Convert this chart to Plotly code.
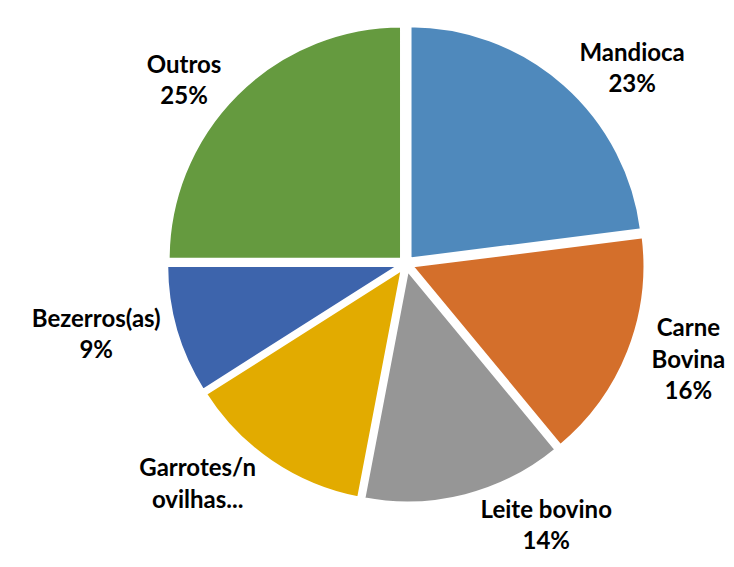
import plotly.graph_objects as go

categories = ["Mandioca", "Carne<br>Bovina", "Leite bovino", "Garrotes/n<br>ovilhas...", "Bezerros(as)", "Outros"]
values = [23, 16, 14, 13, 9, 25]
colors = ["#4F89BC", "#D46F2B", "#969696", "#E2AB00", "#3D64AC", "#659A3F"]
templates = ["%{label}<br>%{percent:.0%}"] * 3 + ["%{label}"] + ["%{label}<br>%{percent:.0%}"] * 2

fig = go.Figure(go.Pie(
    labels=categories,
    values=values,
    sort=False,
    direction="clockwise",
    rotation=0,
    marker=dict(colors=colors, line=dict(color="white", width=3.5)),
    pull=[0.025] * 6,
    textposition="outside",
    texttemplate=templates,
    textfont=dict(family="Lato, Open Sans, sans-serif", size=24, color="black", weight="bold"),
    showlegend=False,
    domain=dict(x=[0.228, 0.922], y=[0.13, 1.0]),
    hoverinfo="skip",
))
fig.update_layout(
    width=734, height=567,
    margin=dict(l=0, r=0, t=0, b=0),
    paper_bgcolor="white",
    plot_bgcolor="white",
)
fig.write_html("out.html")
